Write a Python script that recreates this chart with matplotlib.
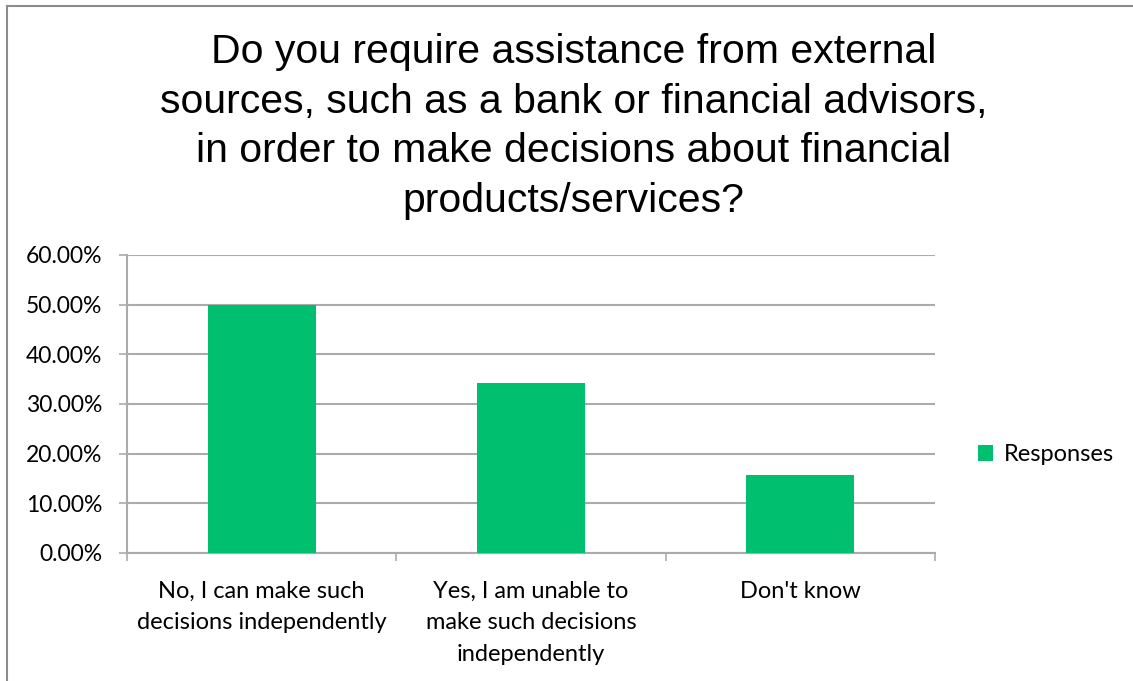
import matplotlib.pyplot as plt
from matplotlib.lines import Line2D
from matplotlib.ticker import FuncFormatter, FixedLocator

# survey answers and share of responses (%)
categories = ['No, I can make such\ndecisions independently',
              'Yes, I am unable to\nmake such decisions\nindependently',
              "Don't know"]
responses = [50.0, 34.3, 15.7]
yticks = [0, 10, 20, 30, 40, 50, 60]

title = ('Do you require assistance from external\n'
         'sources, such as a bank or financial advisors,\n'
         'in order to make decisions about financial\n'
         'products/services?')

bar_color = '#00BF6F'
grid_color = '#ABABAB'
label_font = 'Lato'

fig = plt.figure(figsize=(11.33, 6.81), dpi=100)
ax = fig.add_axes([0.1121, 0.188, 0.7131, 0.4376])

x = range(len(categories))
ax.bar(x, responses, width=0.4, color=bar_color, label='Responses', zorder=3)

ax.set_xlim(-0.5, 2.5)
ax.set_ylim(0, 60)
ax.set_yticks(yticks)
ax.yaxis.set_major_formatter(FuncFormatter(lambda v, p: f'{v:.2f}%'))
ax.grid(axis='y', color=grid_color, linewidth=1.5, zorder=0)

ax.set_xticks(list(x))
ax.set_xticklabels(categories, fontfamily=label_font, fontsize=17,
                   linespacing=1.62, va='top')
ax.xaxis.set_minor_locator(FixedLocator([-0.5, 0.5, 1.5, 2.5]))
ax.tick_params(axis='x', which='major', length=0, pad=20)
ax.tick_params(axis='x', which='minor', length=6, width=1.2, color=grid_color)
ax.tick_params(axis='y', length=6, width=1.2, color=grid_color, pad=12,
               labelsize=16.5)
for lab in ax.get_yticklabels():
    lab.set_fontfamily(label_font)

for side in ['top', 'right']:
    ax.spines[side].set_visible(False)
for side in ['left', 'bottom']:
    ax.spines[side].set_color(grid_color)
    ax.spines[side].set_linewidth(1.5)

fig.text(0.506, 0.951, title, ha='center', va='top', fontsize=29.5,
         fontfamily='Liberation Sans', linespacing=1.38)

leg = fig.legend(loc='center left', bbox_to_anchor=(0.844, 0.332),
                 frameon=False, prop={'family': label_font, 'size': 17},
                 handlelength=0.65, handleheight=0.65, handletextpad=0.45)

# outer chart border (left and top edges)
fig.add_artist(Line2D([6.5 / 1133, 6.5 / 1133], [0, 1 - 5.5 / 681],
                      transform=fig.transFigure, color='#8C8C8C', linewidth=1.5))
fig.add_artist(Line2D([6.5 / 1133, 1], [1 - 5.5 / 681, 1 - 5.5 / 681],
                      transform=fig.transFigure, color='#8C8C8C', linewidth=1.5))

fig.savefig('out.png', dpi=100)
